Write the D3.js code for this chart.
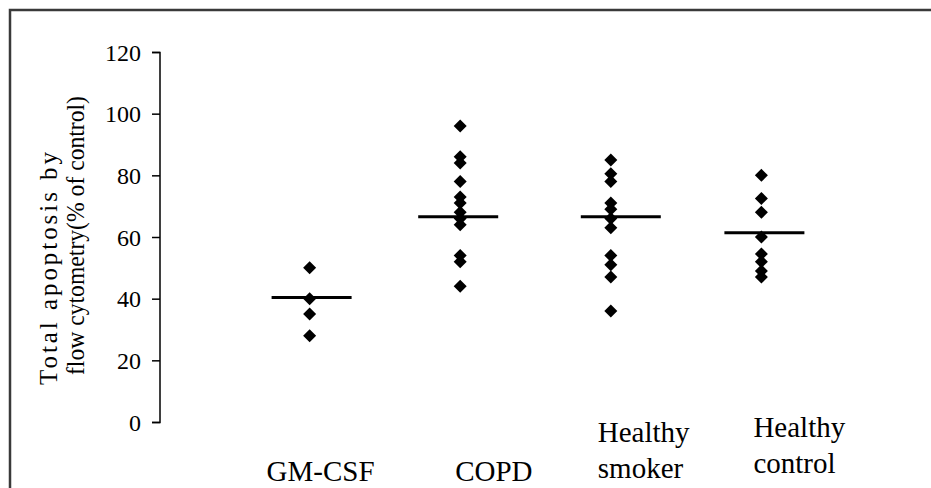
<!DOCTYPE html>
<html><head><meta charset="utf-8">
<script src="https://cdn.jsdelivr.net/npm/d3@7"></script>
<style>html,body{margin:0;padding:0;background:#fff;}svg{display:block;}</style>
</head><body><div id="chart"></div>
<script>
// ---- data ----
const categories = [["GM-CSF"], ["COPD"], ["Healthy", "smoker"], ["Healthy", "control"]];
const gmcsf = [50, 40, 35, 28];
const copd = [96, 86, 84, 78, 73, 71, 68, 66, 64, 54, 52, 44];
const healthySmoker = [85, 80.5, 78, 71, 69, 66, 63, 54, 51, 47, 36];
const healthyControl = [80, 72.5, 68, 60, 54.5, 52, 49, 47];
const means = [40.4, 66.6, 66.6, 61.4];
const yTicks = [0, 20, 40, 60, 80, 100, 120];
const yTitle = ["Total apoptosis by", "flow cytometry(% of control)"];

// ---- layout ----
const W = 931, H = 488;
const labelDx = [-43, -5, -13, -8];
const labelBase = [481, 481, 478, 473];
const meanDx = [2, -2, 10, 3];

const svg = d3.select("#chart").append("svg").attr("width", W).attr("height", H)
  .style("font-family", "'Liberation Serif', 'Times New Roman', serif");
svg.append("rect").attr("width", W).attr("height", H).attr("fill", "#fff");
// frame
svg.append("rect").attr("x", 10).attr("y", 10).attr("width", 960).attr("height", 520)
  .attr("fill", "none").attr("stroke", "#3a3a3a").attr("stroke-width", 2.5);

const x = d3.scaleLinear().domain([0, 5]).range([159, 912]);
const y = d3.scaleLinear().domain([0, 120]).range([422, 52]);

// y axis
const yAxis = d3.axisLeft(y).tickValues(yTicks).tickSize(8).tickPadding(11);
const ga = svg.append("g").attr("transform", "translate(160,0)").call(yAxis);
ga.select(".domain").attr("stroke", "#000").attr("stroke-width", 1.5).attr("d", "M-8,52.5H0V422.5H-8");
ga.selectAll(".tick line").attr("stroke", "#000").attr("stroke-width", 1.5);
ga.selectAll(".tick text").attr("font-size", 24).attr("fill", "#000")
  .attr("font-family", "'Liberation Serif', serif").attr("dy", "0.34em");

// y title
const titleBase = [57, 84], titleStart = [385, 375], titleLen = [233, 279], titleAdj = ["spacing", "spacingAndGlyphs"];
yTitle.forEach((t, i) => {
  svg.append("text").text(t)
    .attr("transform", `translate(${titleBase[i]},${titleStart[i]}) rotate(-90)`)
    .attr("font-size", 25).attr("fill", "#000")
    .attr("textLength", titleLen[i]).attr("lengthAdjust", titleAdj[i]);
});

// points
const series = [gmcsf, copd, healthySmoker, healthyControl];
const diamond = "M0,-6.5L6.5,0L0,6.5L-6.5,0Z";
series.forEach((vals, i) => {
  svg.append("g").selectAll("path").data(vals).join("path")
    .attr("d", diamond)
    .attr("transform", d => `translate(${x(i + 1)},${y(d)})`)
    .attr("fill", "#000");
});

// mean lines
svg.append("g").selectAll("line").data(means).join("line")
  .attr("x1", (d, i) => x(i + 1) + meanDx[i] - 40).attr("x2", (d, i) => x(i + 1) + meanDx[i] + 40)
  .attr("y1", d => y(d)).attr("y2", d => y(d))
  .attr("stroke", "#000").attr("stroke-width", 3);

// category labels
categories.forEach((lines, i) => {
  const n = lines.length;
  lines.forEach((t, j) => {
    svg.append("text").text(t)
      .attr("x", x(i + 1) + labelDx[i])
      .attr("y", labelBase[i] - (n - 1 - j) * 36)
      .attr("font-size", 29).attr("fill", "#000");
  });
});
</script></body></html>
